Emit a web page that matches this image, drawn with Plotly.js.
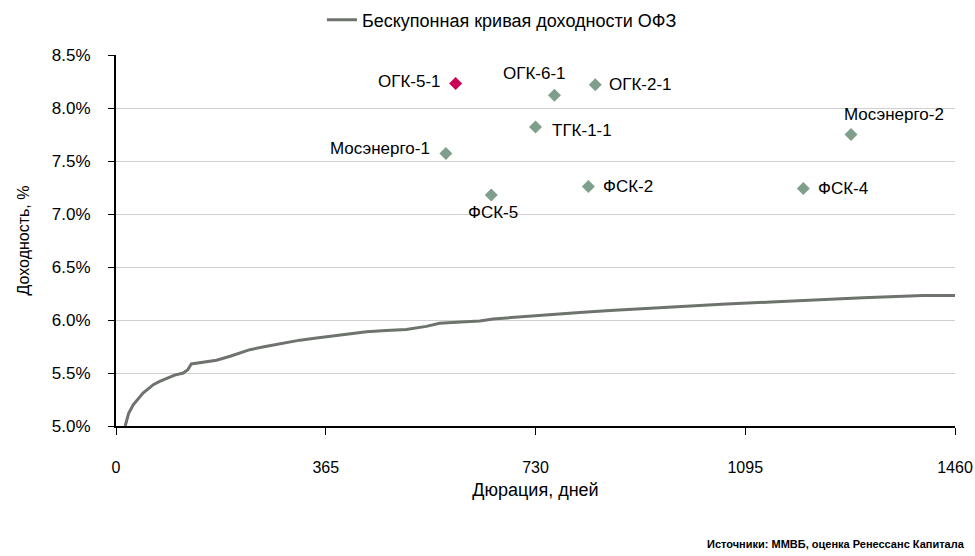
<!DOCTYPE html>
<html>
<head>
<meta charset="utf-8">
<script src="https://cdn.plot.ly/plotly-3.0.1.min.js"></script>
<style>
  html, body { margin: 0; padding: 0; background: #ffffff; }
  #chart { width: 975px; height: 556px; }
</style>
</head>
<body>
<div id="chart"></div>
<script>
// Zero-coupon OFZ yield curve (duration in days, yield in %)
const curveDays = [16, 22, 30, 40, 47, 56, 65, 76, 88, 102, 117, 125, 131, 150, 175, 200, 233, 260, 291, 320, 349, 390, 436, 470, 505, 540, 563, 600, 633, 656, 702, 760, 807, 860, 923, 990, 1062, 1140, 1212, 1300, 1404, 1460];
const curveYields = [5.00, 5.12, 5.20, 5.27, 5.31, 5.35, 5.39, 5.42, 5.45, 5.48, 5.50, 5.53, 5.585, 5.60, 5.62, 5.66, 5.72, 5.75, 5.78, 5.81, 5.83, 5.86, 5.89, 5.90, 5.91, 5.94, 5.97, 5.98, 5.99, 6.01, 6.03, 6.05, 6.07, 6.09, 6.11, 6.13, 6.15, 6.17, 6.19, 6.21, 6.23, 6.23];

// Corporate bonds
const bondNames = ["ОГК-6-1", "ОГК-2-1", "ТГК-1-1", "Мосэнерго-1", "ФСК-5", "ФСК-2", "ФСК-4", "Мосэнерго-2"];
const bondDays = [763, 834, 730, 574, 653, 822, 1196, 1279];
const bondYields = [8.12, 8.22, 7.82, 7.57, 7.18, 7.26, 7.24, 7.75];

// Highlighted bond
const hlName = "ОГК-5-1";
const hlDays = 591;
const hlYield = 8.23;

const xTicks = [0, 365, 730, 1095, 1460];

// label placement per bond: [xanchor, xshift, yshift]
const labelPos = {
  "ОГК-6-1": ["center", -20, 22],
  "ОГК-2-1": ["left", 12, 0],
  "ТГК-1-1": ["left", 14, -3],
  "Мосэнерго-1": ["right", -14, 5],
  "ФСК-5": ["center", 2, -18],
  "ФСК-2": ["left", 13, 0],
  "ФСК-4": ["left", 13, 0],
  "Мосэнерго-2": ["left", -9, 20]
};

const FONT = "Liberation Sans, Arial, sans-serif";

const traces = [
  {
    x: curveDays, y: curveYields, type: "scatter", mode: "lines",
    name: "Бескупонная кривая доходности ОФЗ",
    line: { color: "#6e736e", width: 3 },
    hoverinfo: "skip"
  },
  {
    x: bondDays, y: bondYields, type: "scatter", mode: "markers",
    showlegend: false,
    marker: { symbol: "diamond", size: 10, color: "#7f9f8c" }
  },
  {
    x: [hlDays], y: [hlYield], type: "scatter", mode: "markers",
    showlegend: false,
    marker: { symbol: "diamond", size: 10, color: "#cc0055" }
  }
];

const annotations = bondNames.map((n, i) => ({
  x: bondDays[i], y: bondYields[i], xref: "x", yref: "y",
  text: n, showarrow: false,
  xanchor: labelPos[n][0], yanchor: "middle",
  xshift: labelPos[n][1], yshift: labelPos[n][2],
  font: { family: FONT, size: 17, color: "#000" }
}));
annotations.push({
  x: hlDays, y: hlYield, xref: "x", yref: "y",
  text: hlName, showarrow: false, xanchor: "right", yanchor: "middle",
  xshift: -13, yshift: 2,
  font: { family: FONT, size: 17, color: "#000" }
});
annotations.push({
  x: 1, y: 0, xref: "paper", yref: "paper", xanchor: "right", yanchor: "middle",
  xshift: 12, yshift: -118,
  text: "<b>Источники: ММВБ, оценка Ренессанс Капитала</b>", showarrow: false,
  font: { family: FONT, size: 11, color: "#000" }
});

const layout = {
  width: 975, height: 556,
  paper_bgcolor: "#ffffff", plot_bgcolor: "#ffffff",
  margin: { l: 116, r: 20, t: 55, b: 130 },
  font: { family: FONT, size: 16, color: "#000" },
  showlegend: true,
  legend: {
    orientation: "h", x: 0.46, xanchor: "center",
    yref: "container", y: 0.964, yanchor: "middle",
    font: { family: FONT, size: 18 }
  },
  xaxis: {
    range: [0, 1460], tickvals: xTicks, ticktext: xTicks.map(String),
    showgrid: false, zeroline: false,
    showline: true, linecolor: "#000", linewidth: 2,
    ticks: "outside", ticklen: 7, tickcolor: "#000", tickwidth: 1,
    ticklabelstandoff: 19,
    tickfont: { family: FONT, size: 16 },
    title: { text: "Дюрация, дней", font: { family: FONT, size: 18 }, standoff: 8 }
  },
  yaxis: {
    range: [5, 8.5], dtick: 0.5, tickformat: ".1f", ticksuffix: "%",
    showgrid: true, gridcolor: "#d0d0d0", gridwidth: 1,
    zeroline: false, showline: true, linecolor: "#000", linewidth: 2,
    ticks: "outside", ticklen: 6, tickcolor: "#000", tickwidth: 1,
    ticklabelstandoff: 14,
    tickfont: { family: FONT, size: 17 },
    title: { text: "Доходность, %", font: { family: FONT, size: 16 }, standoff: 18 }
  },
  annotations: annotations
};

Plotly.newPlot("chart", traces, layout, { displayModeBar: false, staticPlot: true });
</script>
</body>
</html>
